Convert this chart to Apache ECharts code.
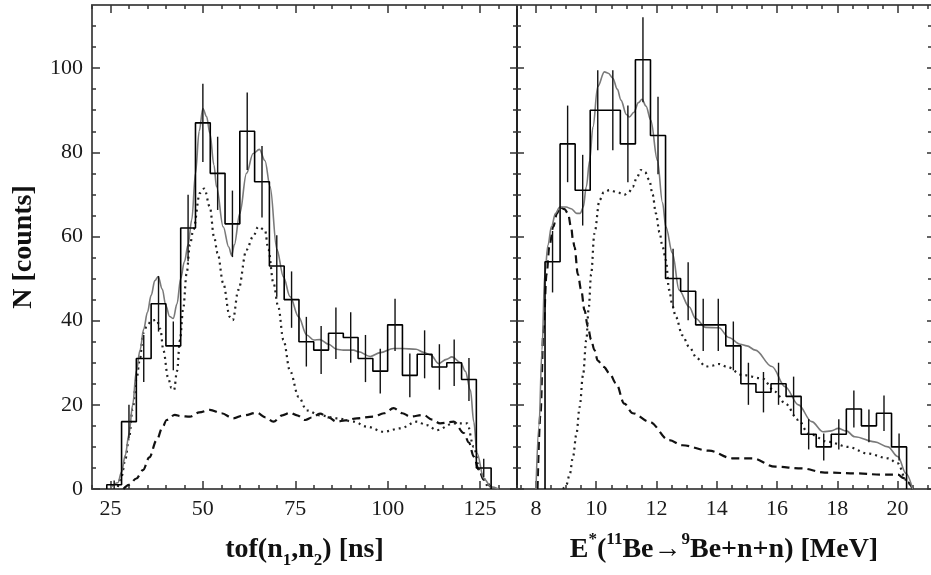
<!DOCTYPE html>
<html>
<head>
<meta charset="utf-8">
<script src="https://cdn.jsdelivr.net/npm/echarts@6/dist/echarts.min.js"></script>
<style>html,body{margin:0;padding:0;background:#fff}#c{width:931px;height:575px}</style>
</head>
<body>
<div id="c"></div>
<script>
// ---------- data ----------
const leftBinStart = 24, leftBinWidth = 4;
const leftCounts = [1,16,31,44,34,62,87,75,63,85,73,53,45,35,33,37,36,31,28,39,27,32,29,30,26,5];
const leftErrors = [1,4,5.6,6.6,5.8,7.9,9.3,8.7,7.9,9.2,8.5,7.3,6.7,5.9,5.7,6.1,6,5.6,5.3,6.2,5.2,5.7,5.4,5.5,5.1,2.2];

const rightBinStart = 8.3, rightBinWidth = 0.5;
const rightCounts = [54,82,71,90,90,82,102,84,50,47,39,39,34,25,23,25,22,13,10,13,19,15,18,10];
const rightErrors = [7.3,9.1,8.4,9.5,9.5,9.1,10.1,9.2,7.1,6.9,6.2,6.2,5.8,5,4.8,5,4.7,3.6,3.2,3.6,4.4,3.9,4.2,3.2];

const leftFit = [[25,0.3],[27,1.5],[28,4],[29,8],[30,13],[31,20],[32,28],[33,33],[34,38],[35,42],[36,46],[37,49.5],[37.9,50.5],[39,47.5],[40,43.5],[41,41],[42,40.5],[43,44],[44,50],[45,54],[46,58],[47,64],[48,75],[49,85],[50,90.4],[51,88.5],[51.9,84.5],[53,77],[53.7,71.8],[55.5,62.3],[57,57.5],[57.8,55.5],[58.5,58],[60,65.5],[61.8,75],[63.6,79.7],[65.3,80.7],[66.8,78],[68.2,71.8],[70,57],[71.8,50.4],[73.6,45.7],[75.9,40.9],[78.1,36.6],[80,35.4],[81.7,35.5],[84,34.4],[86.2,33.2],[88,33],[90.8,33],[92.1,32.6],[95.3,31.5],[98,32.4],[101.6,33.4],[103.9,33.4],[107.7,33.2],[109.7,32.5],[111.7,31.8],[113.8,29.8],[115.9,30.8],[117.4,31.4],[119.8,30],[121,28],[122.4,23.5],[123.3,16],[124.2,8.5],[126,2.5],[128,0.5],[130,0]];
const leftDotted = [[27,0.5],[28,3],[29,7],[30,12],[31,19],[32,26],[33,31],[33.8,37],[35,39],[36.1,40],[37.5,40.2],[38.5,38],[39.3,33],[40.6,26.4],[41.5,24],[42.2,23.5],[43,28],[43.8,35.4],[44.7,43],[45.6,51.2],[46.5,58],[47.4,61.5],[49.2,70.3],[50.4,71.4],[51.9,67],[53,60],[54,56],[55.5,48.9],[57.3,40.9],[58.1,40.1],[59.6,47.3],[61.8,56.8],[63.6,60],[65,62.3],[66.8,61.5],[67.7,57],[69.1,48.9],[70.4,43.3],[71.8,35.4],[73.6,28],[75.9,21.9],[78.1,18.7],[81.7,17.5],[86.2,16.8],[90.8,16],[94.4,14.8],[98.9,13.6],[103.4,14.4],[107.9,16],[110.5,15.2],[113.3,14],[117.9,15.6],[121.5,15.6],[123.3,10],[125.1,3.7],[127,0.5]];
const leftDashed = [[28.5,0],[30,1],[32,2.5],[33.8,4.5],[35.5,7.5],[37.5,11.6],[39,14.5],[40.2,16.4],[42.4,17.6],[44,17.3],[46.5,17.2],[49,18.2],[51.9,18.8],[55,18],[58.2,16.8],[61,17.5],[64.6,18.1],[67,17],[69.1,16],[71.5,17.5],[73.6,18.1],[75.5,17.5],[77.7,16.4],[79.5,17],[81.7,17.9],[84,17],[86.2,16],[88.5,16.3],[91.7,16.8],[96.2,17.2],[99,18],[101.6,19.2],[104,18],[106.1,17.2],[109.7,17.6],[112,16.5],[114.2,15.6],[117.9,16],[120.6,13.3],[122,11],[123.3,7.7],[124.7,4.5],[126,2.2],[127.8,0.5]];

const rightFit = [[8.0,0],[8.1,15],[8.2,33],[8.29,51],[8.4,58],[8.51,62.3],[8.65,65.5],[8.79,67],[9.0,67],[9.17,66.6],[9.35,65.5],[9.47,65.5],[9.57,67],[9.67,71.8],[9.78,78],[9.89,86],[10.05,95.6],[10.27,99.1],[10.4,98.8],[10.55,97.6],[10.7,95],[10.82,92.4],[11.0,89],[11.1,88.4],[11.25,89.5],[11.4,91.8],[11.52,92.6],[11.65,91],[11.81,87.6],[12.03,78.1],[12.2,68],[12.31,62.3],[12.53,56],[12.75,47.3],[13.08,43.3],[13.3,40.5],[13.63,38.4],[14.07,38.3],[14.4,36],[14.78,34.4],[15.0,34],[15.28,33],[15.83,29.1],[16.27,24.3],[16.71,20],[17.15,16],[17.53,13.6],[17.8,13.8],[18.03,14.4],[18.3,13.8],[18.58,12.4],[19.24,11.2],[19.68,10],[20.01,7.7],[20.28,3.7],[20.5,0]];
const rightDotted = [[8.9,0],[9.01,1],[9.12,3.5],[9.23,7.7],[9.34,13],[9.45,19.5],[9.56,27],[9.67,35.4],[9.75,43],[9.83,51],[9.94,60.7],[10.11,68.6],[10.25,70.5],[10.44,71],[10.7,70.5],[10.93,69.9],[11.08,70.5],[11.21,71.8],[11.35,74],[11.48,75.8],[11.62,75.3],[11.76,73.4],[11.87,70],[11.98,65.5],[12.1,61],[12.2,57.6],[12.31,54.4],[12.42,47.3],[12.53,43.5],[12.64,40.9],[12.86,36.5],[13.08,33.8],[13.35,31],[13.63,29.1],[13.85,29.3],[14.07,29.7],[14.35,29],[14.84,27.1],[15.5,26.3],[15.94,23.1],[16.27,20.3],[16.71,16.4],[17.04,13.2],[17.7,11.2],[18.36,10],[19.02,8.4],[19.68,7.3],[20.01,6.1],[20.28,2.2],[20.45,0.5]];
const rightDashed = [[8.05,0],[8.15,18],[8.25,38],[8.35,51],[8.45,58],[8.57,62.3],[8.7,65.5],[8.79,67],[8.95,66.5],[9.06,65.5],[9.17,62],[9.23,59],[9.28,57.5],[9.39,51],[9.5,47.3],[9.61,42.5],[9.72,38.6],[9.83,35.5],[9.94,33],[10.05,30.5],[10.25,29],[10.44,27.5],[10.66,25.1],[10.93,20.3],[11.21,18],[11.76,16],[12.42,11.6],[12.86,10.4],[13.74,9.1],[14.51,7.3],[15.17,7.3],[15.94,5.3],[16.82,4.9],[17.59,3.9],[18.69,3.7],[19.46,3.4],[20.01,3.4],[20.2,2.6],[20.34,1.6],[20.5,0]];

const leftXRange = [20, 135];
const rightXRange = [7.37, 21.11];
const yRange = [0, 115];
const leftXTicks = [25, 50, 75, 100, 125];
const rightXTicks = [8, 10, 12, 14, 16, 18, 20];
const yTicks = [0, 20, 40, 60, 80, 100];

// ---------- helpers ----------
function minorValues(lo, hi, step, majors) {
  const out = [];
  const n = Math.round((hi - lo) / step);
  for (let i = 0; i <= n; i++) {
    const v = +(lo + i * step).toFixed(4);
    if (!majors.some(m => Math.abs(m - v) < 1e-6)) out.push(v);
  }
  return out;
}
const leftXMinor = minorValues(20, 135, 5, leftXTicks);
const rightXMinor = minorValues(7.5, 21, 0.5, rightXTicks);
const yMinor = minorValues(5, 110, 5, yTicks);

const FONT = 'Liberation Serif';
const FRAME = '#555';

function axis(kind, gridIndex, range, position, ticks, len, showLine, labels, extra) {
  const a = {
    type: 'value', gridIndex, min: range[0], max: range[1], position,
    axisLine: { show: showLine, onZero: false, lineStyle: { color: position === 'left' && gridIndex === 1 || position === 'right' && gridIndex === 0 ? '#222' : FRAME, width: 2 } },
    axisTick: { show: true, inside: true, length: len, customValues: ticks, lineStyle: { color: '#333', width: 1.5 } },
    axisLabel: labels ? { show: true, customValues: ticks, fontFamily: FONT, fontSize: 22, color: '#1a1a1a', margin: 9 } : { show: false },
    splitLine: { show: false }, minorTick: { show: false }
  };
  return Object.assign(a, extra || {});
}

const richBase = {
  b: { fontFamily: FONT, fontWeight: 'bold', fontSize: 28, lineHeight: 38, color: '#111' },
  sub: { fontFamily: FONT, fontWeight: 'bold', fontSize: 17, lineHeight: 17, verticalAlign: 'bottom', color: '#111' },
  sup: { fontFamily: FONT, fontWeight: 'bold', fontSize: 17, lineHeight: 17, verticalAlign: 'top', color: '#111' }
};

const xAxes = [
  axis('x', 0, leftXRange, 'bottom', leftXTicks, 8, true, true, {
    name: '{b|tof(n}{sub|1}{b|,n}{sub|2}{b|) [ns]}', nameLocation: 'middle', nameGap: 42,
    nameTextStyle: { rich: richBase }
  }),
  axis('x', 0, leftXRange, 'bottom', leftXMinor, 4, false, false),
  axis('x', 0, leftXRange, 'top', leftXTicks, 8, true, false),
  axis('x', 0, leftXRange, 'top', leftXMinor, 4, false, false),
  axis('x', 1, rightXRange, 'bottom', rightXTicks, 8, true, true, {
    name: '{b|E}{sup|*}{b|(}{sup|11}{b|Be→}{sup|9}{b|Be+n+n) [MeV]}', nameLocation: 'middle', nameGap: 42,
    nameTextStyle: { rich: richBase }
  }),
  axis('x', 1, rightXRange, 'bottom', rightXMinor, 4, false, false),
  axis('x', 1, rightXRange, 'top', rightXTicks, 8, true, false),
  axis('x', 1, rightXRange, 'top', rightXMinor, 4, false, false)
];
const yAxes = [
  axis('y', 0, yRange, 'left', yTicks, 8, true, true, {
    name: 'N [counts]', nameLocation: 'middle', nameRotate: 90, nameGap: 54,
    nameTextStyle: { fontFamily: FONT, fontWeight: 'bold', fontSize: 28, color: '#111' }
  }),
  axis('y', 0, yRange, 'left', yMinor, 4, false, false),
  axis('y', 0, yRange, 'right', yTicks, 7, true, false),
  axis('y', 0, yRange, 'right', yMinor, 4, false, false),
  axis('y', 1, yRange, 'left', yTicks, 7, true, false),
  axis('y', 1, yRange, 'left', yMinor, 4, false, false),
  axis('y', 1, yRange, 'right', yTicks, 4, false, false),
  axis('y', 1, yRange, 'right', yMinor, 3, false, false)
];

function histLine(start, w, counts) {
  const pts = [[start, 0]];
  counts.forEach((c, i) => pts.push([start + i * w, c]));
  pts.push([start + counts.length * w, counts[counts.length - 1]]);
  pts.push([start + counts.length * w, 0]);
  return pts;
}
function histSeries(start, w, counts, xi, yi) {
  return { type: 'line', xAxisIndex: xi, yAxisIndex: yi, data: histLine(start, w, counts), step: 'end',
    symbol: 'none', lineStyle: { color: '#000', width: 1.6 }, z: 5, animation: false };
}
function errSeries(start, w, counts, errs, xi, yi) {
  return { type: 'custom', xAxisIndex: xi, yAxisIndex: yi, z: 6, animation: false, clip: true,
    data: counts.map((c, i) => [start + (i + 0.5) * w, c, errs[i]]),
    encode: { x: 0, y: 1 },
    renderItem: function (params, api) {
      const x = api.value(0), y = api.value(1), e = api.value(2);
      const p1 = api.coord([x, Math.max(0, y - e)]), p2 = api.coord([x, y + e]);
      return { type: 'line', shape: { x1: p1[0], y1: p1[1], x2: p2[0], y2: p2[1] },
        style: { stroke: '#111', lineWidth: 1.4 } };
    } };
}
function curve(data, xi, yi, kind) {
  const ls = kind === 'fit' ? { color: '#7a7a7a', width: 1.6, type: 'solid' }
    : kind === 'dot' ? { color: '#222', width: 2.2, type: [2, 4] }
    : { color: '#111', width: 2.2, type: [8, 5] };
  return { type: 'line', xAxisIndex: xi, yAxisIndex: yi, data, symbol: 'none', smooth: 0.35,
    smoothMonotone: 'x', lineStyle: ls, z: kind === 'fit' ? 4 : 3, animation: false };
}

const chart = echarts.init(document.getElementById('c'), null, { renderer: 'canvas' });
chart.setOption({
  backgroundColor: '#fff',
  animation: false,
  grid: [
    { left: 92, top: 5, width: 425, height: 484, containLabel: false },
    { left: 517, top: 5, width: 416, height: 484, containLabel: false }
  ],
  xAxis: xAxes,
  yAxis: yAxes,
  series: [
    curve(leftDashed, 0, 0, 'dash'),
    curve(leftDotted, 0, 0, 'dot'),
    curve(leftFit, 0, 0, 'fit'),
    histSeries(leftBinStart, leftBinWidth, leftCounts, 0, 0),
    errSeries(leftBinStart, leftBinWidth, leftCounts, leftErrors, 0, 0),
    curve(rightDashed, 4, 4, 'dash'),
    curve(rightDotted, 4, 4, 'dot'),
    curve(rightFit, 4, 4, 'fit'),
    histSeries(rightBinStart, rightBinWidth, rightCounts, 4, 4),
    errSeries(rightBinStart, rightBinWidth, rightCounts, rightErrors, 4, 4)
  ]
});
</script>
</body>
</html>
